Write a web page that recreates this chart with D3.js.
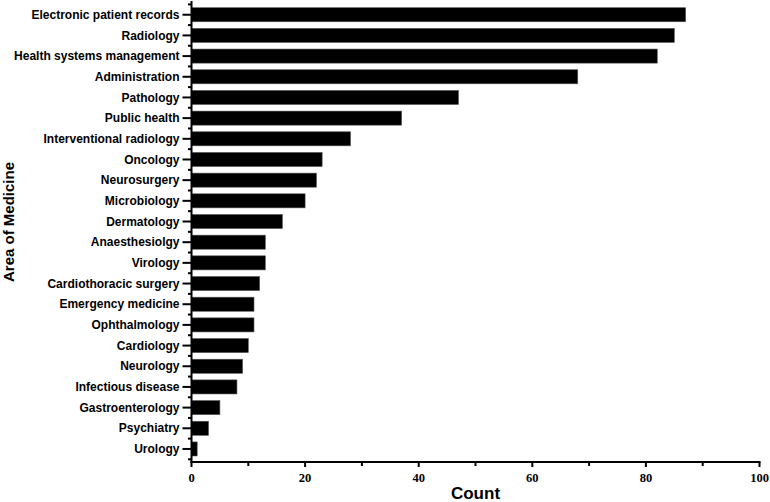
<!DOCTYPE html>
<html>
<head>
<meta charset="utf-8">
<script src="https://cdn.jsdelivr.net/npm/d3@7"></script>
<style>
  html, body { margin: 0; padding: 0; background: #fff; }
  svg { display: block; }
</style>
</head>
<body>
<svg id="chart" width="770" height="502"></svg>
<script>
const categories = [
  "Electronic patient records", "Radiology", "Health systems management", "Administration",
  "Pathology", "Public health", "Interventional radiology", "Oncology", "Neurosurgery",
  "Microbiology", "Dermatology", "Anaesthesiolgy", "Virology", "Cardiothoracic surgery",
  "Emergency medicine", "Ophthalmology", "Cardiology", "Neurology", "Infectious disease",
  "Gastroenterology", "Psychiatry", "Urology"
];
const counts = [87, 85, 82, 68, 47, 37, 28, 23, 22, 20, 16, 13, 13, 12, 11, 11, 10, 9, 8, 5, 3, 1];
const majorTicks = [0, 20, 40, 60, 80, 100];
const minorTicks = [10, 30, 50, 70, 90];
const xLabel = "Count";
const yLabel = "Area of Medicine";

const svg = d3.select("#chart");
const x0 = 191.5, x1 = 759.5, yTop = 4.4, yBot = 459.3, axisY = 462;

const x = d3.scaleLinear().domain([0, 100]).range([x0, x1]);
const y = d3.scaleBand().domain(categories).range([yTop, yBot]).paddingInner(0.32).paddingOuter(0.16);

// bars
svg.append("g").selectAll("rect")
  .data(categories.map((c, i) => ({ c, v: counts[i] })))
  .join("rect")
  .attr("x", x(0))
  .attr("y", d => y(d.c))
  .attr("width", d => x(d.v) - x(0))
  .attr("height", y.bandwidth())
  .attr("fill", "#000")
  .attr("stroke", "#555")
  .attr("stroke-width", 0.6);

// y axis line
svg.append("line").attr("x1", x0).attr("x2", x0).attr("y1", 1).attr("y2", axisY + 1)
  .attr("stroke", "#000").attr("stroke-width", 2);
// y major ticks at centers
svg.append("g").selectAll("line.ymaj").data(categories).join("line")
  .attr("x1", x0 - 9).attr("x2", x0)
  .attr("y1", d => y(d) + y.bandwidth() / 2).attr("y2", d => y(d) + y.bandwidth() / 2)
  .attr("stroke", "#000").attr("stroke-width", 2);
// y minor ticks at band boundaries
const step = y.step();
svg.append("g").selectAll("line.ymin").data(d3.range(categories.length + 1)).join("line")
  .attr("x1", x0 - 3.5).attr("x2", x0)
  .attr("y1", i => yTop + i * step).attr("y2", i => yTop + i * step)
  .attr("stroke", "#000").attr("stroke-width", 2);
// y labels
svg.append("g").selectAll("text").data(categories).join("text")
  .attr("x", x0 - 12)
  .attr("y", d => y(d) + y.bandwidth() / 2)
  .attr("dy", "0.35em")
  .attr("text-anchor", "end")
  .attr("font-family", "'Liberation Sans', Arial, sans-serif")
  .attr("font-weight", "bold")
  .attr("font-size", 12)
  .attr("fill", "#000")
  .text(d => d);

// x axis
svg.append("line").attr("x1", x0 - 1).attr("x2", x(100) + 1).attr("y1", axisY).attr("y2", axisY)
  .attr("stroke", "#000").attr("stroke-width", 2);
svg.append("g").selectAll("line.xmaj").data(majorTicks).join("line")
  .attr("x1", d => x(d)).attr("x2", d => x(d))
  .attr("y1", axisY).attr("y2", axisY + 5)
  .attr("stroke", "#000").attr("stroke-width", 2);
svg.append("g").selectAll("line.xmin").data(minorTicks).join("line")
  .attr("x1", d => x(d)).attr("x2", d => x(d))
  .attr("y1", axisY).attr("y2", axisY + 4)
  .attr("stroke", "#000").attr("stroke-width", 2);
svg.append("g").selectAll("text").data(majorTicks).join("text")
  .attr("x", d => x(d)).attr("y", axisY + 20)
  .attr("text-anchor", "middle")
  .attr("font-family", "'Liberation Serif', 'Times New Roman', serif")
  .attr("font-weight", "bold")
  .attr("font-size", 12.5)
  .attr("fill", "#000")
  .text(d => d);

// axis titles
svg.append("text")
  .attr("x", (x0 + x1) / 2).attr("y", 499)
  .attr("text-anchor", "middle")
  .attr("font-family", "'Liberation Sans', Arial, sans-serif")
  .attr("font-weight", "bold").attr("font-size", 17)
  .text(xLabel);
svg.append("text")
  .attr("transform", "translate(14," + 222 + ") rotate(-90)")
  .attr("text-anchor", "middle")
  .attr("font-family", "'Liberation Sans', Arial, sans-serif")
  .attr("font-weight", "bold").attr("font-size", 15)
  .text(yLabel);
</script>
</body>
</html>
